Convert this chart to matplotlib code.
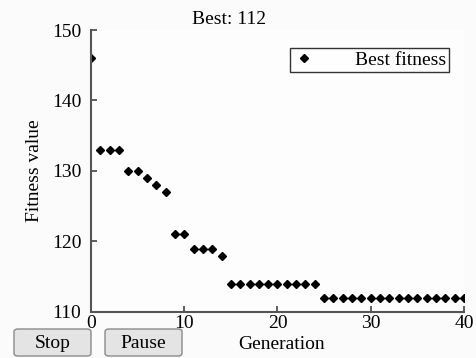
import matplotlib
matplotlib.use("Agg")
import matplotlib.pyplot as plt
from matplotlib.patches import FancyBboxPatch

# ── data ──
generations = list(range(0, 41))
best_fitness = [146, 133, 133, 133, 130, 130, 129, 128, 127, 121, 121,
                119, 119, 119, 118] + [114] * 10 + [112] * 16
x_ticks = [0, 10, 20, 30, 40]
y_ticks = [110, 120, 130, 140, 150]
best_value = 112

plt.rcParams["font.family"] = ["Liberation Serif", "DejaVu Serif"]
plt.rcParams["font.size"] = 14

fig = plt.figure(figsize=(4.77, 3.58), dpi=100, facecolor="#fbfbfb")
ax = fig.add_axes([0.1908, 0.1285, 0.7819, 0.7877])
ax.set_facecolor("#fdfdfd")

ax.plot(generations, best_fitness, linestyle="none", marker="D",
        markersize=4.5, color="black", label="Best fitness")

ax.set_xlim(0, 40)
ax.set_ylim(110, 150)
ax.set_xticks(x_ticks)
ax.set_yticks(y_ticks)
ax.tick_params(direction="in", length=4, width=1.2, color="#444444")
ax.tick_params(axis="y", pad=7)
ax.tick_params(axis="x", pad=2)
for side in ("top", "right"):
    ax.spines[side].set_visible(False)
for side in ("left", "bottom"):
    ax.spines[side].set_color("#555555")
    ax.spines[side].set_linewidth(1.5)

ax.set_ylabel("Fitness value")
ax.yaxis.set_label_coords(-0.128, 0.5)
ax.set_xlabel("Generation")
ax.xaxis.set_label_coords(0.512, -0.085)

fig.text(229 / 477, 1 - 19 / 358, f"Best: {best_value}", ha="center",
         va="center", fontsize=14)

leg = ax.legend(loc="upper left", bbox_to_anchor=(0.533, 0.935), frameon=True,
                fancybox=False, edgecolor="black", borderpad=0.15,
                handletextpad=2.0, handlelength=1.2, borderaxespad=0)
leg.get_frame().set_linewidth(1.0)
leg.get_frame().set_facecolor("white")

# buttons drawn below the axes
for label, x0 in (("Stop", 14), ("Pause", 105)):
    box = FancyBboxPatch((x0 / 477, 1 - 356 / 358), 77 / 477, 27 / 358,
                         boxstyle="round,pad=0,rounding_size=0.008",
                         transform=fig.transFigure, facecolor="#e4e4e4",
                         edgecolor="#8a8a8a", linewidth=1.0)
    fig.patches.append(box)
    fig.text((x0 + 38.5) / 477, 1 - 343 / 358, label, ha="center",
             va="center", fontsize=14)

fig.savefig("out.png", dpi=100, facecolor=fig.get_facecolor())
